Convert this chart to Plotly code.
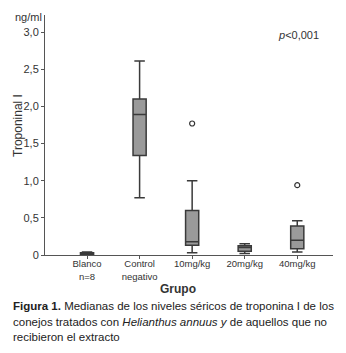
import plotly.graph_objects as go

categories = ["Blanco<br>n=8", "Control<br>negativo", "10mg/kg", "20mg/kg", "40mg/kg"]
lower_whisker = [0.00, 0.77, 0.03, 0.02, 0.04]
q1_values = [0.01, 1.34, 0.13, 0.05, 0.085]
median_values = [0.02, 1.89, 0.18, 0.10, 0.20]
q3_values = [0.03, 2.10, 0.60, 0.125, 0.39]
upper_whisker = [0.04, 2.61, 1.00, 0.15, 0.46]
outlier_cats = ["10mg/kg", "40mg/kg"]
outlier_values = [1.77, 0.94]
y_tick_vals = [0, 0.5, 1.0, 1.5, 2.0, 2.5, 3.0]
y_tick_text = ["0", "0,5", "1,0", "1,5", "2,0", "2,5", "3,0"]

FONT = "Liberation Sans, Arial, sans-serif"
W, H = 346, 353
ML, MR, MT, MB = 45, 13, 15, 98

fig = go.Figure()
fig.add_trace(go.Box(
    x=categories,
    q1=q1_values, median=median_values, q3=q3_values,
    lowerfence=lower_whisker, upperfence=upper_whisker,
    fillcolor="#9a9a9a",
    line=dict(color="#3a3a3a", width=1.5),
    width=0.25, whiskerwidth=0.8,
    boxpoints=False, showlegend=False, hoverinfo="skip",
))
fig.add_trace(go.Scatter(
    x=outlier_cats, y=outlier_values, mode="markers",
    marker=dict(symbol="circle-open", size=5, color="#333333", line=dict(width=1.2)),
    showlegend=False, hoverinfo="skip",
))

fig.update_layout(
    width=W, height=H,
    margin=dict(l=ML, r=MR, t=MT, b=MB),
    paper_bgcolor="white", plot_bgcolor="white",
    font=dict(family=FONT, size=10, color="#333333"),
    xaxis=dict(
        type="category", categoryorder="array", categoryarray=categories,
        range=[-0.8, 4.68], showline=True, linecolor="#555555", linewidth=1,
        ticks="outside", ticklen=3, tickcolor="#555555", ticklabelstandoff=-3,
        showgrid=False, zeroline=False, tickfont=dict(size=9.5, color="#333333"),
    ),
    yaxis=dict(
        range=[0, 3.23], tickvals=y_tick_vals, ticktext=y_tick_text,
        showline=True, linecolor="#555555", linewidth=1,
        ticks="outside", ticklen=3, tickcolor="#555555",
        showgrid=False, zeroline=False, tickfont=dict(size=11, color="#333333"),
    ),
)

cap_font = dict(size=11.5, color="#222222")
ann = [
    dict(text="ng/ml", x=44, y=17, xanchor="right", yanchor="middle", font=dict(size=11)),
    dict(text="Troponinal I", x=18, y=126, xanchor="center", yanchor="middle", textangle=-90, font=dict(size=12)),
    dict(text="<i>p</i><0,001", x=298, y=35, xanchor="center", yanchor="middle", font=dict(size=11)),
    dict(text="<b>Grupo</b>", x=178, y=289, xanchor="center", yanchor="middle", font=dict(size=12)),
    dict(text="<b>Figura 1.</b> Medianas de los niveles séricos de troponina I de los",
         x=11, y=306, xanchor="left", yanchor="middle", font=cap_font),
    dict(text="conejos tratados con <i>Helianthus annuus y</i> de aquellos que no",
         x=11, y=322, xanchor="left", yanchor="middle", font=cap_font),
    dict(text="recibieron el extracto",
         x=11, y=337, xanchor="left", yanchor="middle", font=cap_font),
]
for a in ann:
    a.update(xref="paper", yref="paper", showarrow=False)
    a["x"] = (a["x"] - ML) / (W - ML - MR)
    a["y"] = ((H - a["y"]) - MB) / (H - MT - MB)
fig.update_layout(annotations=ann)

fig.write_html("out.html", config={"displayModeBar": False},
               post_script="document.body.style.margin='0';document.body.style.padding='0';")
